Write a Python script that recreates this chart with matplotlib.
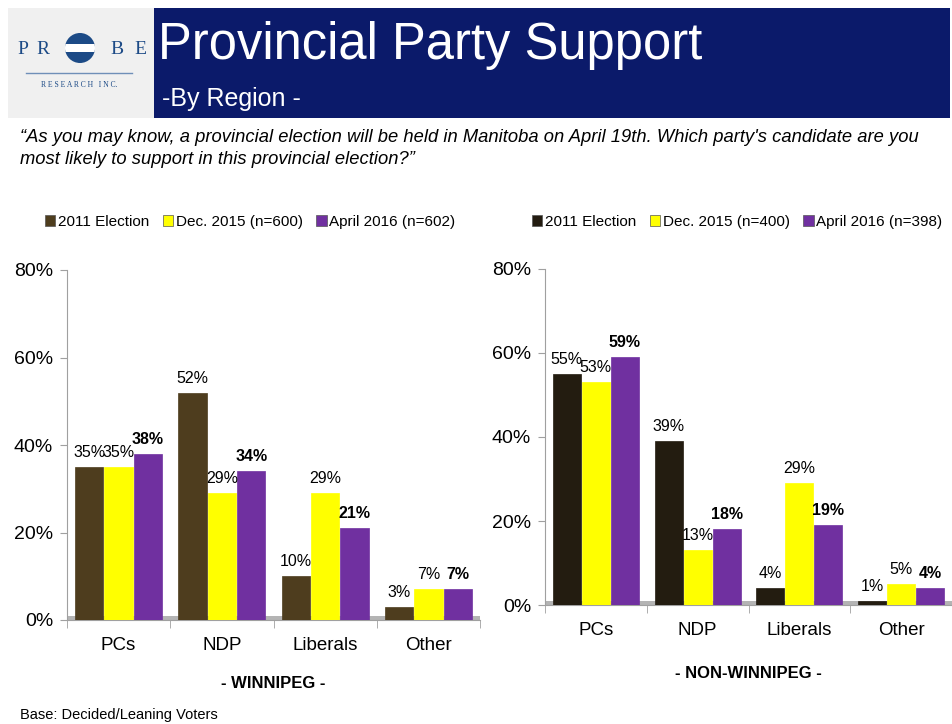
import matplotlib
matplotlib.use("Agg")
import matplotlib.pyplot as plt
import numpy as np
from matplotlib.patches import Rectangle, Circle, Patch

plt.rcParams['font.family'] = ['Liberation Sans', 'DejaVu Sans']

categories = ["PCs", "NDP", "Liberals", "Other"]
yticks = [0, 20, 40, 60, 80]
ytick_labels = ["0%", "20%", "40%", "60%", "80%"]

wpg_2011 = [35, 52, 10, 3]
wpg_dec2015 = [35, 29, 29, 7]
wpg_apr2016 = [38, 34, 21, 7]

nonwpg_2011 = [55, 39, 4, 1]
nonwpg_dec2015 = [53, 13, 29, 5]
nonwpg_apr2016 = [59, 18, 19, 4]

wpg_legend = ["2011 Election", "Dec. 2015 (n=600)", "April 2016 (n=602)"]
nonwpg_legend = ["2011 Election", "Dec. 2015 (n=400)", "April 2016 (n=398)"]

W, H = 952, 724
fig = plt.figure(figsize=(W / 100, H / 100), dpi=100)
fig.patch.set_facecolor("white")

# ---- header overlay (pixel coordinates)
ov = fig.add_axes([0, 0, 1, 1], zorder=0)
ov.set_xlim(0, W)
ov.set_ylim(H, 0)
ov.axis("off")
ov.add_patch(Rectangle((8, 8), 146, 110, color="#F0F0F0", lw=0))
ov.add_patch(Rectangle((154, 8), 796, 110, color="#0B1A6A", lw=0))
navy = "#1C4A86"
for ch, xx in [("P", 23), ("R", 43), ("B", 117), ("E", 140)]:
    ov.text(xx, 49, ch, fontsize=14, family="Liberation Serif", color=navy,
            ha="center", va="center")
circ = Circle((80, 48), 15, color=navy, lw=0)
ov.add_patch(circ)
band = Rectangle((60, 44), 40, 8, color="white", lw=0)
ov.add_patch(band)
band.set_clip_path(circ)
ov.plot([26, 132], [73, 73], color="#6F8FB8", lw=1)
ov.text(79, 85, "R E S E A R C H   I N C.", fontsize=5.5, family="Liberation Serif",
        color=navy, ha="center", va="center")
ov.text(158, 46, "Provincial Party Support", fontsize=36.5, color="white",
        ha="left", va="center")
ov.text(162, 99, "-By Region -", fontsize=18, color="white", ha="left", va="center")
ov.text(20, 138, "\u201cAs you may know, a provincial election will be held in Manitoba on April 19th. Which party's candidate are you",
        fontsize=13.2, style="italic", color="black", ha="left", va="center")
ov.text(20, 160, "most likely to support in this provincial election?\u201d",
        fontsize=13.2, style="italic", color="black", ha="left", va="center")
ov.text(20, 715, "Base: Decided/Leaning Voters", fontsize=10.5, color="black", ha="left", va="center")


def draw_panel(rect, s1, s2, s3, c1, title, legend_labels, leg_xy, title_y, cat_pad):
    ax = fig.add_axes(rect, zorder=2)
    ax.set_facecolor("none")
    x = np.arange(len(categories))
    w = 0.285
    colors = [c1, "#FFFF00", "#7030A0"]
    series = [s1, s2, s3]
    ax.axhspan(-1.0, 0.9, xmin=0, xmax=1, color="#B4B4B4", zorder=1, lw=0)
    for i, (vals, col) in enumerate(zip(series, colors)):
        xs = x + (i - 1) * w
        ax.bar(xs, vals, width=w - 0.01, color=col, edgecolor=col, lw=0.5, zorder=3)
        for xx, v in zip(xs, vals):
            ax.annotate(f"{v}%", (xx, v), xytext=(0, 5), textcoords="offset points",
                        ha="center", va="bottom", fontsize=11.5,
                        fontweight="bold" if i == 2 else "normal", zorder=4)
    ax.set_xlim(-0.5, len(categories) - 0.5)
    ax.set_ylim(0, 80)
    ax.set_yticks(yticks)
    ax.set_yticklabels(ytick_labels, fontsize=14)
    ax.set_xticks(x)
    ax.set_xticklabels(categories, fontsize=13.5)
    ax.tick_params(axis="x", length=0, pad=cat_pad)
    ax.set_xticks(np.arange(len(categories) + 1) - 0.5, minor=True)
    ax.tick_params(axis="x", which="minor", length=6, color="#A0A0A0", direction="out")
    ax.tick_params(axis="y", length=5, color="#A0A0A0", pad=5)
    for s in ["top", "right"]:
        ax.spines[s].set_visible(False)
    ax.spines["left"].set_color("#A0A0A0")
    ax.spines["bottom"].set_color("#A0A0A0")
    handles = [Patch(facecolor=c, edgecolor="#555555", lw=0.5) for c in colors]
    fig.legend(handles, legend_labels, loc="center", bbox_to_anchor=leg_xy, ncol=3,
               frameon=False, fontsize=11, handlelength=0.7, handleheight=0.7,
               handletextpad=0.15, columnspacing=0.9)
    fig.text(rect[0] + rect[2] / 2, title_y, title, ha="center", va="center",
             fontsize=12, fontweight="bold")
    return ax


draw_panel([67 / W, 1 - 620 / H, 413 / W, 350 / H], wpg_2011, wpg_dec2015, wpg_apr2016,
           "#4E3D1E", "- WINNIPEG -", wpg_legend, (250 / W, 1 - 222 / H), 1 - 684 / H, 12)
draw_panel([545 / W, 1 - 605 / H, 407 / W, 336 / H], nonwpg_2011, nonwpg_dec2015, nonwpg_apr2016,
           "#231C10", "- NON-WINNIPEG -", nonwpg_legend, (737 / W, 1 - 222 / H), 1 - 673 / H, 12)

fig.savefig("out.png", dpi=100)
